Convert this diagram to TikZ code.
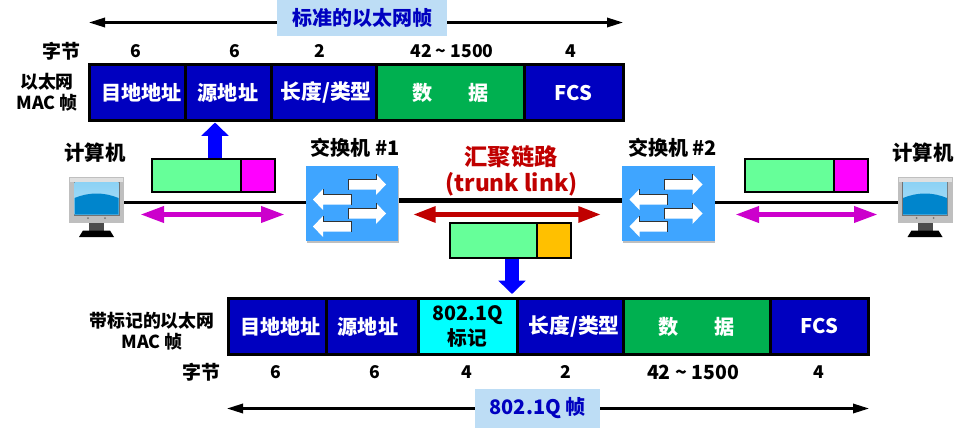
\documentclass[tikz,border=0pt]{standalone}
\usepackage{fontspec}
\setmainfont{Noto Sans CJK SC}
\usetikzlibrary{arrows.meta,positioning,calc}
\definecolor{fblue}{HTML}{0000C0}
\definecolor{fgreen}{HTML}{00B050}
\definecolor{lblue}{HTML}{BDDDF5}
\definecolor{swblue}{HTML}{3FA5FF}
\definecolor{mint}{HTML}{66FF99}
\definecolor{cmag}{HTML}{CC00CC}
\definecolor{pmag}{HTML}{FF00FF}
\definecolor{pcyan}{HTML}{00FFFF}
\definecolor{dred}{HTML}{C00000}
\definecolor{amber}{HTML}{FFC000}
\definecolor{scrA}{HTML}{8CD2F5}
\definecolor{scrB}{HTML}{0085CC}
\newcommand{\fs}[1]{\fontsize{#1}{#1}\selectfont\bfseries}
\newcommand{\sharrow}[3]{% tip x, tip y, direction
  \begin{scope}[shift={(#1,#2)},xscale=#3]
  \fill[white] (0,0) -- (-10,-10.5) -- (-10,-5) -- (-38,-5) -- (-38,5) -- (-10,5) -- (-10,10.5) -- cycle;
  \draw[black!80,line width=0.7pt] (-10,-10.5) -- (-10,-5) -- (-38,-5) -- (-38,5);
  \end{scope}}
\newcommand{\swicon}[2]{% x y of top-left
  \fill[black!25] (#1+1,#2+2) rectangle (#1+93,#2+77.5);
  \fill[swblue] (#1,#2) rectangle (#1+92.5,#2+75.5);
  \sharrow{#1+80.5}{#2+19}{1}
  \sharrow{#1+7.5}{#2+34}{-1}
  \sharrow{#1+80.5}{#2+48}{1}
  \sharrow{#1+7.5}{#2+61}{-1}}
\newcommand{\pcicon}[2]{% x y of top-left
  \fill[black!70] (#1+20,#2+46) rectangle (#1+35,#2+54);
  \fill[black] (#1+10,#2+60) -- (#1+14,#2+53.5) -- (#1+41,#2+53.5) -- (#1+45,#2+60) -- cycle;
  \fill[black!25] (#1,#2) rectangle (#1+55,#2+46);
  \fill[black!12] (#1+1,#2+1) rectangle (#1+54,#2+5);
  \fill[black!55] (#1+4.5,#2+4.5) rectangle (#1+50.5,#2+38.5);
  \shade[top color=scrA,bottom color=scrA!70!white] (#1+5.5,#2+5.5) rectangle (#1+49.5,#2+37.5);
  \fill[scrB] (#1+5.5,#2+21) .. controls (#1+20,#2+15) and (#1+35,#2+15) .. (#1+49.5,#2+21) -- (#1+49.5,#2+37.5) -- (#1+5.5,#2+37.5) -- cycle;
  \fill[black!55] (#1+19,#2+41) circle (1); \fill[black!55] (#1+36,#2+41) circle (1);}
\tikzset{
  x=0.75pt,y=-0.75pt,
  cell/.style={draw=black,line width=2.25pt,fill=fblue,text=white,anchor=north west,inner sep=0pt,outer sep=0pt,font=\fs{15.1}},
  cellb/.style={cell,text=black},
  lab/.style={font=\fs{13.2},text=black,inner sep=0pt},
  small/.style={font=\fs{13.4},text=black,inner sep=0pt,align=center},
  head/.style={font=\fs{14.2},text=black,inner sep=0pt},
  banner/.style={fill=lblue,text=fblue,font=\fs{15},inner sep=0pt,outer sep=0pt,anchor=north west},
  mtag/.style={draw=black,line width=1.5pt,anchor=north west,inner sep=0pt,outer sep=0pt},
  dimarrow/.style={black,line width=1.7pt,{Triangle[length=12pt,width=7pt]}-{Triangle[length=12pt,width=7pt]}},
  magarrow/.style={cmag,line width=4pt,{Triangle[length=18pt,width=11.5pt]}-{Triangle[length=18pt,width=11.5pt]}},
  redarrow/.style={dred,line width=3.75pt,{Triangle[length=17pt,width=11.5pt]}-{Triangle[length=17pt,width=11.5pt]}},
  bluearrow/.style={blue,line width=11pt,-{Triangle[length=10pt,width=20pt]}},
  wire/.style={black,line width=2.4pt},
  trunk/.style={black,line width=3.6pt},
  anchorbox/.style={inner sep=0pt,minimum size=0pt,outer sep=0pt,anchor=north west,shape=rectangle}
}
\newcommand{\cellnode}[7]{% name style x1 y1 x2 y2 text
  \node[#2,minimum width={(#5-#3)*0.75pt},minimum height={(#6-#4)*0.75pt}] (#1) at (#3,#4) {#7};}
\begin{document}
\begin{tikzpicture}
\useasboundingbox (0,0) rectangle (970,428);
% top dimension arrow
\coordinate (tl) at (89,22.5);
\coordinate (tr) at (623,22.5);
\draw[dimarrow] (tl) -- (tr);
\node[banner,minimum width=127.5pt,minimum height=27pt] (tb) at (277,0) {标准的以太网帧};
% top frame
\node[head] (tby) at (61.5,51) {字节};
\node[lab] at (136,51) (n1) {6};
\node[lab] at (234.5,51) (n2) {6};
\node[lab] at (319.5,51) (n3) {2};
\node[lab] at (452,51) (n4) {42 \textasciitilde{} 1500};
\node[lab] at (571,51) (n5) {4};
\node[small] (tname) at (47,92) {以太网\\[2pt]MAC 帧};
\cellnode{a1}{cell}{89.5}{65}{185}{120.5}{\hspace{6.5pt}目地地址}
\cellnode{a2}{cell}{185}{65}{271}{120.5}{源地址}
\cellnode{a3}{cell}{271}{65}{376.5}{120.5}{\hspace{3.5pt}\fontsize{15.6}{15.6}\selectfont 长度/类型}
\cellnode{a4}{cell,fill=fgreen}{376.5}{65}{524}{120.5}{数\hspace{27pt}据}
\cellnode{a5}{cell}{524}{65}{623}{120.5}{FCS}
% labels
\node[font=\fs{15.3},inner sep=0pt] (pc1l) at (95,153) {计算机};
\node[font=\fs{15.3},inner sep=0pt] (pc2l) at (923,153) {计算机};
\node[font=\fs{15},inner sep=0pt] (s1l) at (355,148) {交换机 \#1};
\node[font=\fs{15},inner sep=0pt] (s2l) at (672.5,148) {交换机 \#2};
\node[font=\fs{17.4},text=dred,inner sep=0pt] (tk1) at (511,157) {汇聚链路};
\node[font=\fs{17},text=dred,inner sep=0pt] (tk2) at (511.5,184) {(trunk link)};
% icons & wires
\node[anchorbox,minimum width=41.25pt,minimum height=45pt] (pc1) at (69,177) {};
\node[anchorbox,minimum width=41.25pt,minimum height=45pt] (pc2) at (897.5,177) {};
\node[anchorbox,minimum width=69.4pt,minimum height=56.6pt] (sw1) at (305.5,165.5) {};
\node[anchorbox,minimum width=69.4pt,minimum height=56.6pt] (sw2) at (622,165.5) {};
\coordinate (w1) at (pc1.east |- 0,202.5);
\coordinate (w2) at (sw1.west |- 0,202.5);
\coordinate (w3) at (sw1.east |- 0,200.5);
\coordinate (w4) at (sw2.west |- 0,200.5);
\coordinate (w5) at (sw2.east |- 0,202.5);
\coordinate (w6) at (pc2.west |- 0,202.5);
\draw[wire] (w1) -- (w2);
\draw[trunk] (w3) -- (w4);
\draw[wire] (w5) -- (w6);
\pcicon{69}{177}
\pcicon{897.5}{177}
\swicon{305.5}{165.5}
\swicon{622}{165.5}
% frames on wire
\node[mtag,fill=mint,minimum width=66.75pt,minimum height=25pt] (f1a) at (152,159) {};
\node[mtag,fill=pmag,minimum width=25.5pt,minimum height=25pt] (f1b) at (241,159) {};
\node[mtag,fill=mint,minimum width=66.75pt,minimum height=25pt] (f2a) at (745,159) {};
\node[mtag,fill=pmag,minimum width=25.5pt,minimum height=25pt] (f2b) at (834,159) {};
\node[mtag,fill=mint,minimum width=65pt,minimum height=26pt] (f3a) at (450,223) {};
\node[mtag,fill=amber,minimum width=25.5pt,minimum height=26pt] (f3b) at (537,223) {};
% arrows
\coordinate (m1l) at (140,214.5); \coordinate (m1r) at (285,214.5);
\coordinate (m2l) at (735,214.5); \coordinate (m2r) at (878,214.5);
\coordinate (rl) at (413,214.5); \coordinate (rr) at (601,214.5);
\draw[magarrow] (m1l) -- (m1r);
\draw[magarrow] (m2l) -- (m2r);
\draw[redarrow] (rl) -- (rr);
\coordinate (bu0) at (215,158); \coordinate (bu1) at (215,122.5);
\coordinate (bd0) at (512,259); \coordinate (bd1) at (512,294);
\draw[bluearrow] (bu0) -- (bu1);
\draw[bluearrow] (bd0) -- (bd1);
% bottom frame
\node[small] (bname) at (152,331) {带标记的以太网\\[2pt]MAC 帧};
\cellnode{b1}{cell}{228.7}{298.7}{326}{354.3}{\hspace{5pt}目地地址}
\cellnode{b2}{cell}{326}{298.7}{418}{354.3}{源地址\hspace{6pt}\mbox{}}
\cellnode{b3}{cellb,fill=pcyan,align=center,font=\fs{14.8}}{418}{298.7}{517}{354.3}{802.1Q\\[2pt]标记}
\cellnode{b4}{cell}{517}{298.7}{623}{354.3}{\hspace{6pt}\fontsize{15.6}{15.6}\selectfont 长度/类型}
\cellnode{b5}{cell,fill=fgreen}{623}{298.7}{770.5}{354.3}{数\hspace{27pt}据}
\cellnode{b6}{cell}{770.5}{298.7}{868}{354.3}{FCS}
\node[head] (bby) at (201.5,372) {字节};
\node[lab] (m1) at (276,372) {6};
\node[lab] (m2) at (374.5,372) {6};
\node[lab] (m3) at (467,372) {4};
\node[lab] (m4) at (566,372) {2};
\node[lab,font=\fs{14.6}] (m5) at (693,372) {42 \textasciitilde{} 1500};
\node[lab] (m6) at (819,372) {4};
\coordinate (bl) at (227,408.5);
\coordinate (br) at (869,408.5);
\draw[dimarrow] (bl) -- (br);
\node[banner,minimum width=93.75pt,minimum height=29.25pt] (bb) at (475,389) {802.1Q 帧};
\end{tikzpicture}
\end{document}
